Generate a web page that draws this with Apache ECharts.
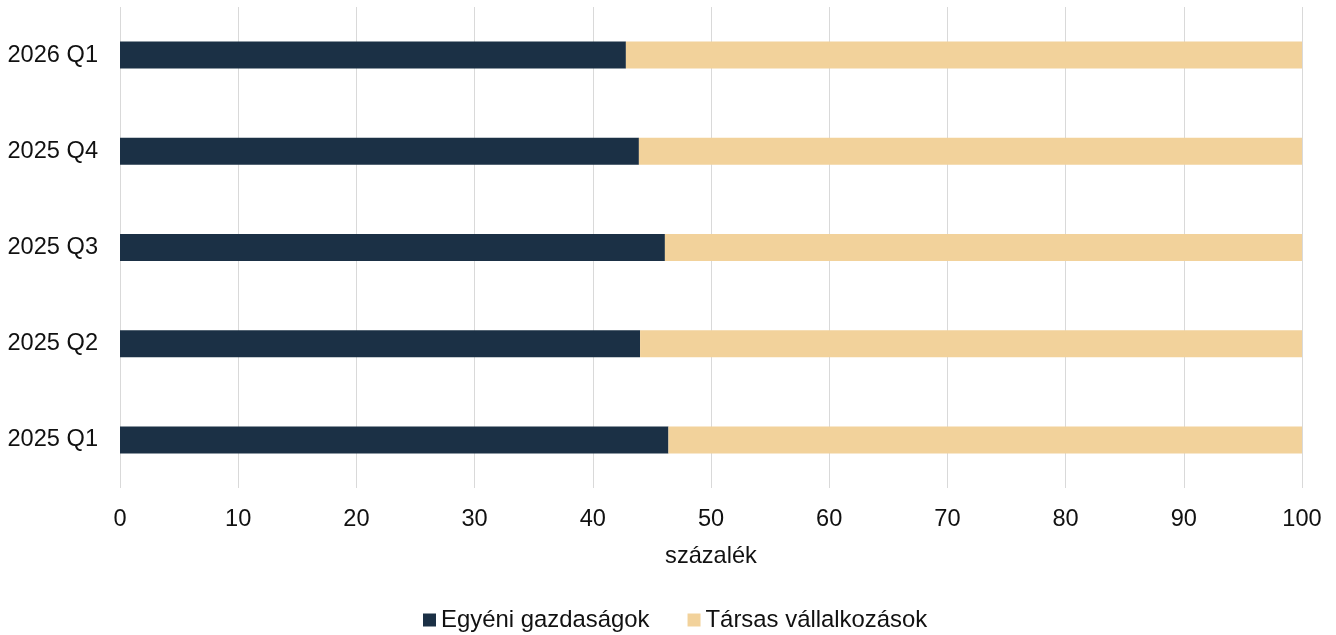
<!DOCTYPE html>
<html><head><meta charset="utf-8">
<script src="https://cdn.jsdelivr.net/npm/echarts@6/dist/echarts.min.js"></script>
<style>html,body{margin:0;padding:0;background:#fff}#c{width:1336px;height:635px}</style>
</head><body><div id="c"></div>
<script>
const categories = ['2025 Q1','2025 Q2','2025 Q3','2025 Q4','2026 Q1'];
const egyeni = [46.4, 44.0, 46.1, 43.9, 42.8];
const tarsas = [53.6, 56.0, 53.9, 56.1, 57.2];
const seriesNames = ['Egyéni gazdaságok','Társas vállalkozások'];
const axisName = 'százalék';

const font = 'Liberation Sans, Arial, sans-serif';
const fs = 23.6;
const chart = echarts.init(document.getElementById('c'));
chart.setOption({
  animation:false,
  textStyle:{fontFamily:font},
  grid:{left:120,right:34,top:7,bottom:147,containLabel:false},
  legend:{bottom:-2,left:418,itemWidth:13,itemHeight:13,itemGap:38,icon:'rect',
    textStyle:{fontSize:23.9,color:'#111',fontFamily:font},
    data:seriesNames},
  xAxis:{type:'value',min:0,max:100,interval:10,
    name:axisName,nameLocation:'middle',nameGap:56,
    nameTextStyle:{fontSize:fs,color:'#111',fontFamily:font},
    axisLabel:{fontSize:fs,color:'#111',margin:19,fontFamily:font},
    axisLine:{show:false},axisTick:{show:false},
    splitLine:{show:true,lineStyle:{color:'#d9d9d9',width:1}}},
  yAxis:{type:'category',data:categories,
    axisLabel:{fontSize:fs,color:'#111',margin:22,fontFamily:font},
    axisLine:{show:false},axisTick:{show:false},splitLine:{show:false}},
  series:[
    {name:seriesNames[0],type:'bar',stack:'a',data:egyeni,barWidth:27,itemStyle:{color:'#1B3045'}},
    {name:seriesNames[1],type:'bar',stack:'a',data:tarsas,barWidth:27,itemStyle:{color:'#F2D29B'}}
  ]
});
</script></body></html>
